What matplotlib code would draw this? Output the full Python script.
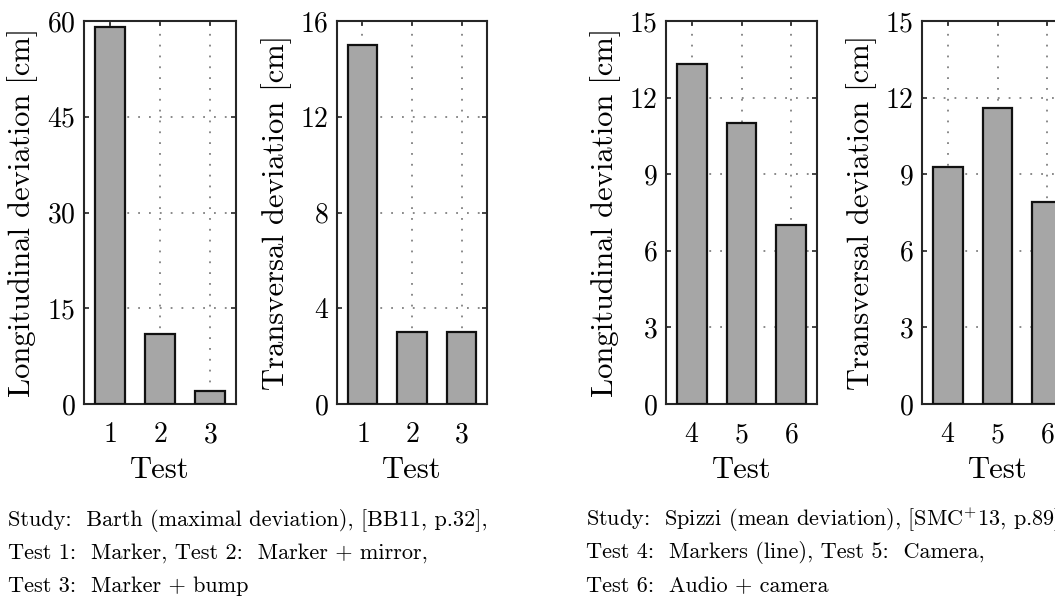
import matplotlib
matplotlib.use("Agg")
import matplotlib.pyplot as plt

# ── Data ──────────────────────────────────────────────────────────────────────

BARTH_TESTS = [1, 2, 3]
BARTH_LONG  = [59, 11, 2]
BARTH_TRANS = [15, 3, 3]

SPIZZI_TESTS = [4, 5, 6]
SPIZZI_LONG  = [13.3, 11, 7]
SPIZZI_TRANS = [9.3, 11.6, 7.9]

YTICKS_BARTH_LONG  = [0, 15, 30, 45, 60]
YTICKS_BARTH_TRANS = [0, 4, 8, 12, 16]
YTICKS_SPIZZI      = [0, 3, 6, 9, 12, 15]

CAPTION_BARTH = ["Study:  Barth (maximal deviation), [BB11, p.32],",
                 "Test 1:  Marker, Test 2:  Marker + mirror,",
                 "Test 3:  Marker + bump"]
CAPTION_SPIZZI = ["Study:  Spizzi (mean deviation), [SMC$^{+}$13, p.89],",
                  "Test 4:  Markers (line), Test 5:  Camera,",
                  "Test 6:  Audio + camera"]

# ── Style ─────────────────────────────────────────────────────────────────────

plt.rcParams["font.family"] = "cmr10"
plt.rcParams["mathtext.fontset"] = "cm"
plt.rcParams["axes.unicode_minus"] = False
plt.rcParams["axes.formatter.use_mathtext"] = True

BAR_COLOR   = "#a6a6a6"
EDGE_COLOR  = "#111111"
SPINE_COLOR = "#262626"
W, H = 1055, 601


def panel(rect, tests, values, yticks, ylabel):
    ax = fig.add_axes(rect)
    ax.set_axisbelow(True)
    ax.bar(tests, values, width=0.6, color=BAR_COLOR, edgecolor=EDGE_COLOR,
           linewidth=1.6, zorder=3)
    ax.set_xlim(tests[0] - 0.515, tests[-1] + 0.515)
    ax.set_ylim(yticks[0], yticks[-1])
    ax.set_xticks(tests)
    ax.set_yticks(yticks)
    ax.grid(True, color="#808080", linestyle=(0, (1, 5)), linewidth=1.3)
    ax.tick_params(direction="in", top=True, right=True, length=3.5, width=1.2,
                   color=SPINE_COLOR, labelsize=20)
    ax.tick_params(axis="x", pad=13)
    ax.tick_params(axis="y", pad=6)
    for s in ax.spines.values():
        s.set_linewidth(1.5)
        s.set_color(SPINE_COLOR)
    ax.set_ylabel(ylabel, fontsize=22)
    ax.yaxis.set_label_coords(-0.30, 0.5)
    ax.set_xlabel("Test", fontsize=22, labelpad=6)
    return ax


def px_rect(left, right, top=21, bottom=404):
    return [left / W, 1 - bottom / H, (right - left) / W, (bottom - top) / H]


fig = plt.figure(figsize=(W / 100, H / 100), dpi=100)

panel(px_rect(84, 236), BARTH_TESTS, BARTH_LONG, YTICKS_BARTH_LONG,
      "Longitudinal deviation [cm]")
panel(px_rect(337, 487), BARTH_TESTS, BARTH_TRANS, YTICKS_BARTH_TRANS,
      "Transversal deviation [cm]")
panel(px_rect(666, 817), SPIZZI_TESTS, SPIZZI_LONG, YTICKS_SPIZZI,
      "Longitudinal deviation [cm]")
panel(px_rect(922, 1073), SPIZZI_TESTS, SPIZZI_TRANS, YTICKS_SPIZZI,
      "Transversal deviation [cm]")

for i, line in enumerate(CAPTION_BARTH):
    fig.text(8 / W, 1 - (520 + 33 * i) / H, line, fontsize=16, va="center")
for i, line in enumerate(CAPTION_SPIZZI):
    fig.text(586 / W, 1 - (520 + 33 * i) / H, line, fontsize=16, va="center")

fig.savefig("out.png", dpi=100)
